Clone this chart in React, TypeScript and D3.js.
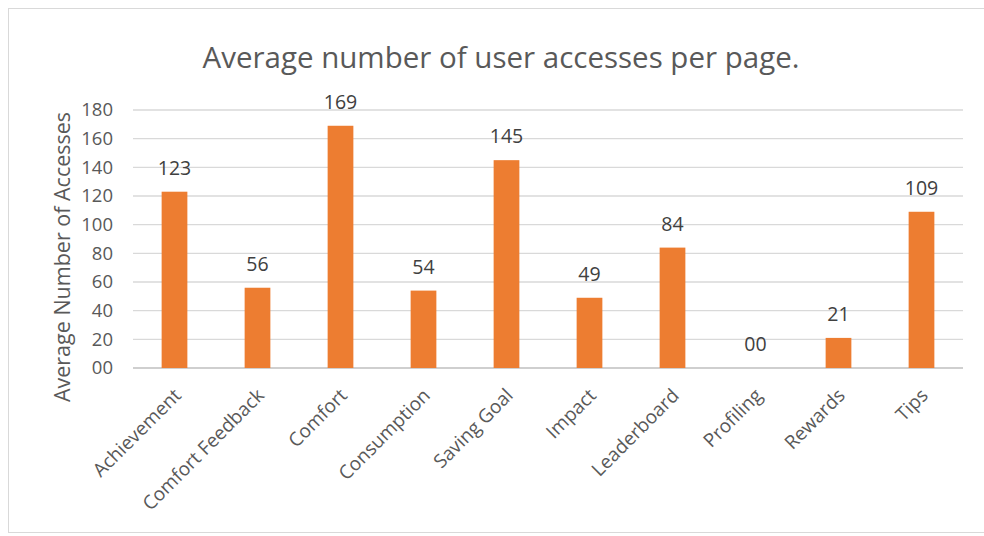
import React from "react";
import * as d3 from "d3";

const categories = ["Achievement", "Comfort Feedback", "Comfort", "Consumption", "Saving Goal", "Impact", "Leaderboard", "Profiling", "Rewards", "Tips"];
const values = [123, 56, 169, 54, 145, 49, 84, 0, 21, 109];
const yTicks = [0, 20, 40, 60, 80, 100, 120, 140, 160, 180];
const title = "Average number of user accesses per page.";
const yTitle = "Average Number of Accesses";

const W = 984, H = 536;
const FONT = "'Open Sans', 'Noto Sans', sans-serif";

export default function App() {
  const x = d3.scaleBand<string>().domain(categories).range([133, 963]).paddingInner(0.69).paddingOuter(0.345);
  const y = d3.scaleLinear().domain([0, 180]).range([368, 110]);
  const fmt = (v: number) => (v < 10 ? String(v).padStart(2, "0") : String(v));
  return (
    <svg width={W} height={H} style={{ position: "absolute", left: 0, top: 0, background: "#fff" }}>
      <rect x={8.5} y={8.5} width={990} height={524} fill="#fff" stroke="#d9d9d9" />
      <text x={501} y={68} textAnchor="middle" fontFamily={FONT} fontSize={29.5} fill="#595959">{title}</text>
      {yTicks.map(t => (
        <g key={t}>
          <line x1={133} x2={963} y1={y(t)} y2={y(t)} stroke={t === 0 ? "#bfbfbf" : "#d9d9d9"} strokeWidth={1.3} />
          <text x={113} y={y(t)} dy="0.35em" textAnchor="end" fontFamily={FONT} fontSize={18.5} fill="#595959">{fmt(t)}</text>
        </g>
      ))}
      <text transform={`translate(62,${257}) rotate(-90)`} textAnchor="middle" dy="0.35em" fontFamily={FONT} fontSize={21.5} fill="#595959">{yTitle}</text>
      {categories.map((c, i) => {
        const cx = (x(c) as number) + x.bandwidth() / 2;
        return (
          <g key={c}>
            {values[i] > 0 && <rect x={x(c)} y={y(values[i])} width={x.bandwidth()} height={y(0) - y(values[i])} fill="#ed7d31" />}
            <text x={cx} y={y(values[i]) - 17} textAnchor="middle" fontFamily={FONT} fontSize={19.5} fill="#404040">{fmt(values[i])}</text>
            <text transform={`translate(${cx + 3},${392}) rotate(-45)`} textAnchor="end" dy="0.35em" fontFamily={FONT} fontSize={19} fill="#595959">{c}</text>
          </g>
        );
      })}
    </svg>
  );
}
